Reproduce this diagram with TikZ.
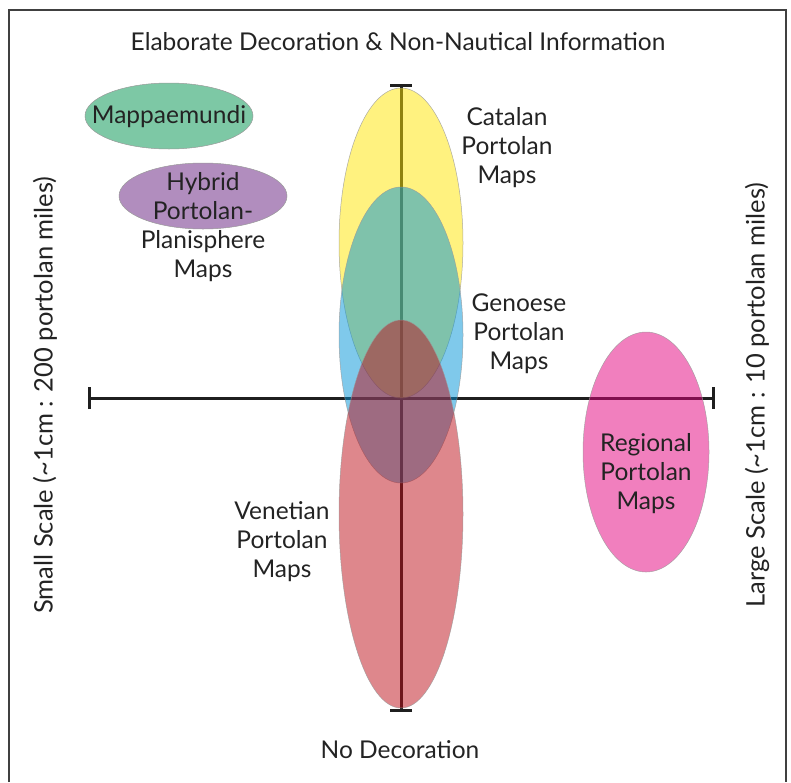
\documentclass[tikz,border=0pt]{standalone}
\usepackage{fontspec}
\setmainfont{Lato}
\usetikzlibrary{shapes.geometric,arrows.meta}
\definecolor{cyel}{RGB}{255,229,0}
\definecolor{cblu}{RGB}{0,147,216}
\definecolor{cred}{RGB}{189,15,25}
\definecolor{cpnk}{RGB}{228,0,125}
\definecolor{cgrn}{RGB}{125,200,165}
\definecolor{cpur}{RGB}{177,141,190}
\definecolor{ctxt}{RGB}{35,35,35}
\begin{document}
\begin{tikzpicture}[x=1pt,y=-1pt,
  blob/.style={ellipse,draw=gray!80,line width=0.5pt,inner sep=0pt},
  tblob/.style={blob,fill opacity=0.5,draw opacity=0.8},
  lbl/.style={text=ctxt,font=\fontsize{24.5}{29}\selectfont,align=center},
  side/.style={lbl,font=\fontsize{25.5}{29}\selectfont,rotate=90},
  axis/.style={line width=3pt,draw=black!88,{Bar[width=22pt,line width=3pt]}-{Bar[width=22pt,line width=3pt]}},
  frame/.style={line width=1.3pt,draw=black!75}]
\useasboundingbox (0,0) rectangle (791,782);
\coordinate (fbl) at (9,782);
\coordinate (ftl) at (9,10);
\coordinate (ftr) at (786,10);
\coordinate (fbr) at (786,782);
\draw[frame] (fbl) -- (ftl) -- (ftr) -- (fbr);
% axes
\coordinate (hl) at (88,398);
\coordinate (hr) at (715,398);
\coordinate (vt) at (401,84);
\coordinate (vb) at (401,712);
\draw[axis] (hl) -- (hr);
\draw[axis] (vt) -- (vb);
% ellipses
\node[tblob,fill=cyel,minimum width=124pt,minimum height=310pt] (catalan) at (401,243) {};
\node[tblob,fill=cblu,minimum width=124pt,minimum height=296pt] (genoese) at (401,335) {};
\node[tblob,fill=cred,minimum width=124pt,minimum height=388pt] (venetian) at (401,514) {};
\node[tblob,fill=cpnk,minimum width=126pt,minimum height=240pt] (regional) at (646,452) {};
\node[blob,fill=cgrn,minimum width=168pt,minimum height=66pt] (mappa) at (169,116) {};
\node[blob,fill=cpur,minimum width=168pt,minimum height=66pt] (hybrid) at (203,196) {};
% labels
\node[lbl] (ttop) at (398,42) {Elaborate Decoration \& Non-Nautical Information};
\node[lbl] (tbot) at (400,750) {No Decoration};
\node[side] (tleft) at (45,395) {Small Scale (\textasciitilde 1cm : 200 portolan miles)};
\node[side] (tright) at (757,395) {Large Scale (\textasciitilde 1cm : 10 portolan miles)};
\node[lbl] (tmappa) at (169,117) {Mappaemundi};
\node[lbl] (thybrid) at (203,227) {Hybrid\\Portolan-\\Planisphere\\Maps};
\node[lbl] (tcatalan) at (507,148) {Catalan\\Portolan\\Maps};
\node[lbl] (tgenoese) at (519,334) {Genoese\\Portolan\\Maps};
\node[lbl] (tvenetian) at (282,542) {Venetian\\Portolan\\Maps};
\node[lbl] (tregional) at (646,474) {Regional\\Portolan\\Maps};
\end{tikzpicture}
\end{document}
